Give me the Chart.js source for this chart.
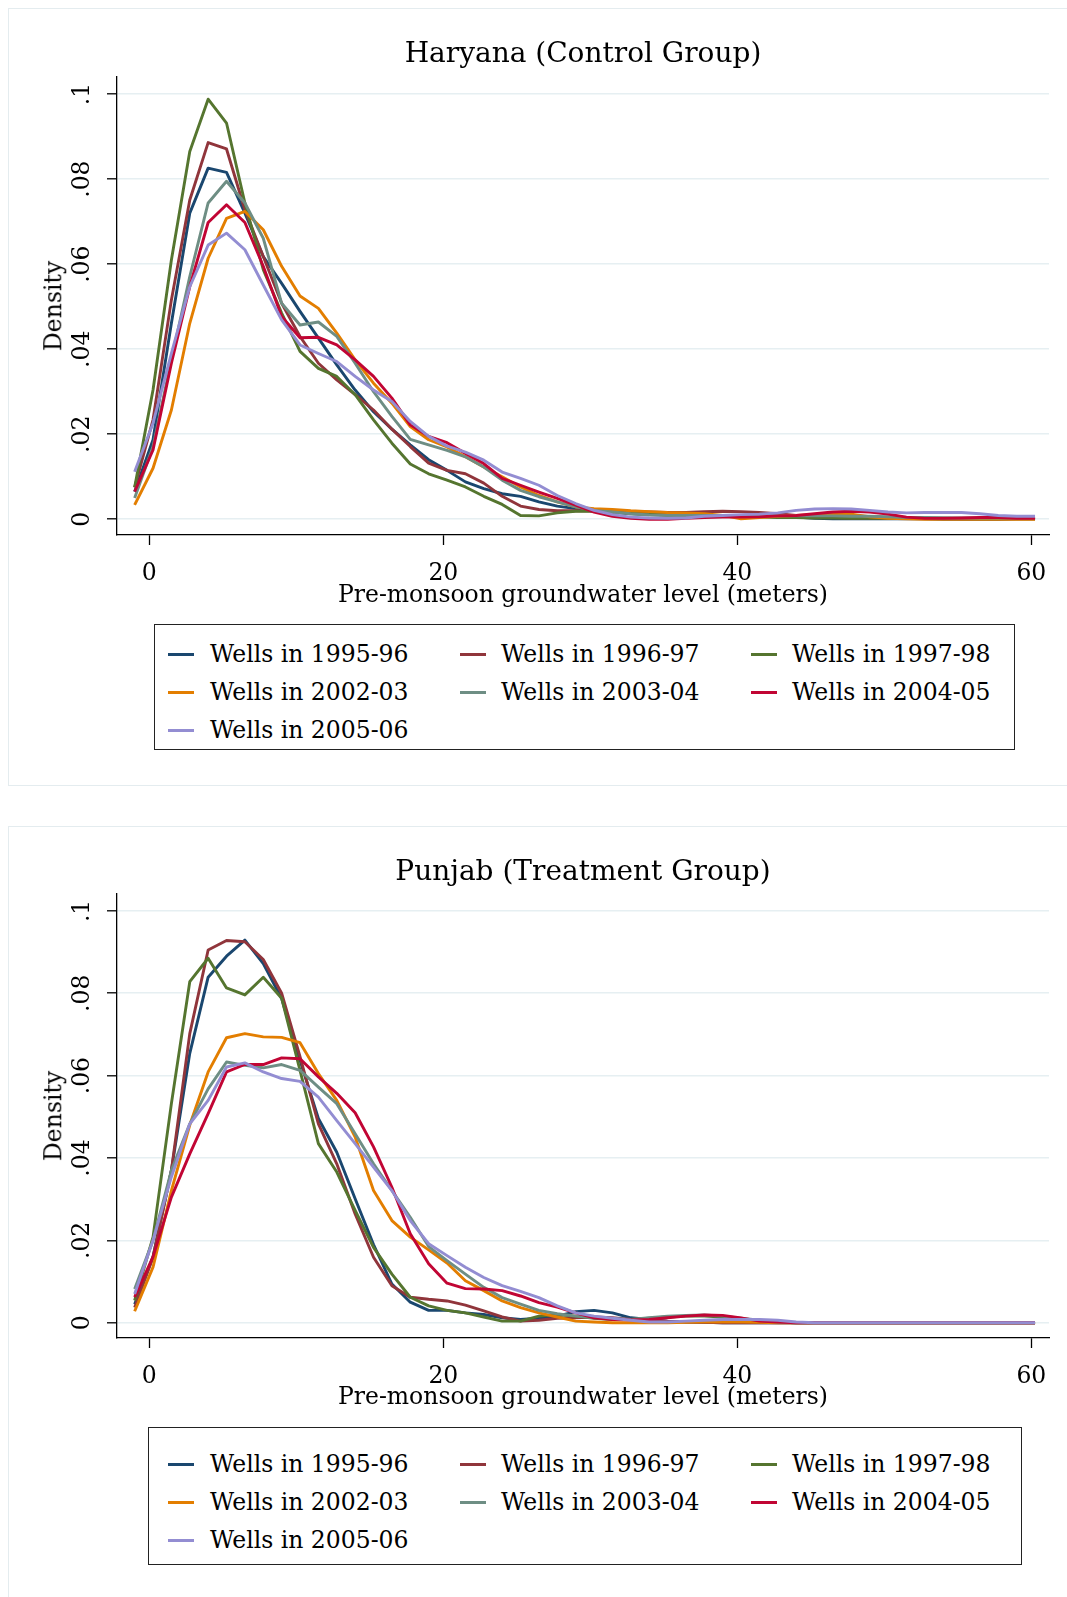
<!DOCTYPE html>
<html>
<head>
<meta charset="utf-8">
<script src="https://cdn.jsdelivr.net/npm/chart.js@4.4.1/dist/chart.umd.min.js"></script>
<style>
  html, body { margin:0; padding:0; background:#fff; }
  body { width:1067px; height:1597px; position:relative; overflow:hidden; font-family:"DejaVu Serif", serif; color:#000; }
  .panel { position:absolute; left:8px; width:1075px; border:1px solid #e4ecef; box-sizing:border-box; background:#fff; }
  .cv { position:absolute; left:0; }
  .title { position:absolute; left:117px; width:932px; text-align:center; font-size:28px; height:40px; line-height:40px; white-space:nowrap; }
  .xtitle { position:absolute; left:117px; width:932px; text-align:center; font-size:23.5px; height:30px; line-height:30px; white-space:nowrap; }
  .ytitle { position:absolute; font-size:23.5px; line-height:1; white-space:nowrap; transform:translate(-50%,-50%) rotate(-90deg); }
  .legend { position:absolute; border:1.5px solid #222; box-sizing:border-box; background:#fff; }
  .sym { position:absolute; height:3px; width:26px; }
  .lab { position:absolute; font-size:23.5px; height:30px; line-height:30px; white-space:nowrap; }
</style>
</head>
<body>
<div class="panel" style="top:8px;height:778px;"></div>
<div class="panel" style="top:826px;height:800px;"></div>

<canvas id="c1" class="cv" width="1067" height="570" style="top:40px;"></canvas>
<canvas id="c2" class="cv" width="1067" height="570" style="top:858px;"></canvas>

<div id="overlay"></div>

<script>
// ---------- DATA ----------
const xs = [-1, 0.25, 1.5, 2.75, 4, 5.25, 6.5, 7.75, 9, 10.25,
  11.5, 12.75, 14, 15.25, 16.5, 17.75, 19, 20.25, 21.5, 22.75,
  24, 25.25, 26.5, 27.75, 29, 30.25, 31.5, 32.75, 34, 35.25,
  36.5, 37.75, 39, 40.25, 41.5, 42.75, 44, 45.25, 46.5, 47.75,
  49, 50.25, 51.5, 52.75, 54, 55.25, 56.5, 57.75, 59, 60.25];

const seriesLabels = ['Wells in 1995-96', 'Wells in 1996-97', 'Wells in 1997-98',
  'Wells in 2002-03', 'Wells in 2003-04', 'Wells in 2004-05', 'Wells in 2005-06'];

const yTickValues = [0, 0.02, 0.04, 0.06, 0.08, 0.1];
const yTickLabels = ['0', '.02', '.04', '.06', '.08', '.1'];
const xTickValues = [0, 20, 40, 60];

const panelTitles = ['Haryana (Control Group)', 'Punjab (Treatment Group)'];
const xAxisTitle = 'Pre-monsoon groundwater level (meters)';
const yAxisTitle = 'Density';

// Haryana (Control Group)
const haryana9596 = [.0065,.0187,.0461,.072,.0826,.0816,.072,.0618,.0555,.0489,
  .0426,.0363,.0304,.0253,.0212,.0175,.014,.0115,.0088,.0072,
  .006,.0054,.0041,.0031,.0025,.0021,.0017,.0013,.0011,.001,
  .0009,.0008,.0008,.0007,.0007,.0006,.0005,.0002,.0001,.0001,
  .0001,.0001,.0001,.0001,0,0,0,0,.0001,.0001];
const haryana9697 = [.0075,.0234,.0516,.0751,.0886,.0871,.0728,.0618,.0508,.043,
  .0367,.0328,.0293,.0257,.0212,.0171,.0132,.0115,.0107,.0085,
  .0054,.0031,.0023,.002,.002,.002,.002,.0018,.0017,.0016,
  .0016,.0018,.0019,.0018,.0016,.0013,.0009,.0005,.0004,.0003,
  .0003,.0003,.0003,.0003,.0003,.0002,.0002,.0002,.0002,.0002];
const haryana9798 = [.0075,.0304,.061,.0865,.0988,.0932,.0744,.0587,.0485,.0395,
  .0355,.0336,.0293,.0234,.0179,.013,.0107,.0092,.0076,.0054,
  .0035,.0009,.0008,.0015,.0019,.0019,.0017,.0014,.0012,.001,
  .001,.0009,.0008,.0006,.0005,.0004,.0004,.0003,.0003,.0002,
  .0002,.0002,.0002,.0002,.0002,.0001,.0001,.0001,.0001,.0001];
const haryana0203 = [.0034,.012,.0257,.0461,.0614,.0708,.0724,.0681,.0595,.0525,
  .0496,.0438,.0375,.032,.0273,.0218,.0187,.017,.0147,.0123,
  .01,.0076,.0056,.0041,.0029,.0025,.0023,.002,.0018,.0016,
  .0015,.0013,.0009,.0001,.0004,.0007,.0009,.0011,.0013,.0012,
  .0006,.0002,.0001,0,0,0,0,0,0,0];
const haryana0304 = [.005,.0171,.0375,.0571,.0744,.0795,.0744,.0661,.0508,.0457,
  .0464,.043,.0367,.03,.0242,.0188,.0175,.0162,.0147,.0123,
  .0092,.0068,.0053,.0041,.0029,.0021,.0017,.0013,.001,.0009,
  .0009,.0009,.0009,.0009,.0009,.0008,.0008,.0008,.0008,.0007,
  .0007,.0006,.0004,.0004,.0003,.0003,.0003,.0003,.0003,.0003];
const haryana0405 = [.0065,.0163,.0367,.0547,.0698,.074,.0698,.0595,.0477,.0427,
  .0428,.041,.0375,.0336,.0285,.0222,.0195,.018,.0155,.0131,
  .0096,.008,.0064,.0049,.0033,.0017,.0007,.0002,0,0,
  .0002,.0004,.0005,.0005,.0006,.0008,.0009,.0013,.0017,.0019,
  .0017,.0012,.0005,.0002,.0002,.0003,.0004,.0004,.0002,.0002];
const haryana0506 = [.0112,.0226,.039,.0547,.0645,.0673,.0634,.0551,.0469,.041,
  .039,.0371,.0336,.0304,.0277,.023,.0195,.0172,.0158,.0139,
  .0111,.0096,.008,.0056,.0037,.0021,.0011,.0005,.0003,.0002,
  .0003,.0007,.0009,.0011,.0012,.0015,.0021,.0024,.0025,.0024,
  .0021,.0017,.0015,.0016,.0016,.0016,.0013,.0009,.0007,.0007];

// Punjab (Treatment Group)
const punjab9596 = [.0045,.016,.037,.0654,.0839,.089,.0929,.0872,.0787,.0637,
  .0496,.0414,.0301,.019,.0094,.005,.003,.003,.0024,.002,
  .0012,.0008,.0011,.0016,.0027,.003,.0024,.0012,.0008,.0004,
  .0002,.0001,0,0,0,0,0,0,0,0,
  0,0,0,0,0,0,0,0,0,0];
const punjab9697 = [.0037,.0159,.037,.0702,.0905,.0928,.0925,.0882,.08,.0646,
  .0483,.0386,.0264,.0159,.009,.0062,.0057,.0053,.0043,.0029,
  .0014,.0004,.0006,.0011,.0012,.0014,.0012,.0008,.0006,.0003,
  .0002,.0001,0,0,0,0,0,0,0,0,
  0,0,0,0,0,0,0,0,0,0];
const punjab9798 = [.0054,.0208,.0532,.0828,.0885,.0813,.0796,.0839,.0788,.0613,
  .0435,.0366,.0273,.0183,.0118,.0062,.0041,.003,.0024,.0014,
  .0004,.0004,.0016,.002,.0016,.0011,.0008,.0008,.0011,.0014,
  .0016,.0016,.0014,.0008,.0004,.0002,0,0,0,0,
  0,0,0,0,0,0,0,0,0,0];
const punjab0203 = [.0028,.0135,.0321,.048,.0609,.0692,.0702,.0694,.0693,.068,
  .0605,.054,.0451,.0321,.0248,.0208,.0177,.0145,.0102,.0078,
  .0053,.0037,.0024,.0014,.0004,.0002,0,0,0,0,
  .0001,.0002,.0002,.0002,.0001,0,0,0,0,0,
  0,0,0,0,0,0,0,0,0,0];
const punjab0304 = [.0082,.02,.037,.0483,.0568,.0633,.0625,.0619,.0627,.0613,
  .0572,.0532,.0459,.0386,.0321,.0256,.0185,.0151,.0118,.0086,
  .0061,.0045,.003,.0022,.0016,.0012,.001,.0008,.0012,.0016,
  .0018,.0019,.0016,.0011,.0006,.0002,0,0,0,0,
  0,0,0,0,0,0,0,0,0,0];
const punjab0405 = [.0062,.016,.0305,.041,.0508,.0609,.0627,.0627,.0643,.0641,
  .0597,.0557,.051,.0427,.0329,.0216,.0143,.0096,.0083,.0082,
  .0078,.0065,.0049,.0038,.0024,.0012,.0008,.0007,.0008,.0012,
  .0016,.0019,.0018,.0012,.0004,.0002,0,0,0,0,
  0,0,0,0,0,0,0,0,0,0];
const punjab0506 = [.007,.02,.0354,.0483,.054,.0621,.0631,.0609,.0593,.0586,
  .0548,.0491,.0435,.0378,.0321,.0248,.0192,.0163,.0135,.011,
  .009,.0076,.0061,.0041,.0024,.0016,.0011,.0006,.0002,.0002,
  .0004,.0006,.0008,.0008,.0008,.0006,.0002,0,0,0,
  0,0,0,0,0,0,0,0,0,0];

// ---------- STYLE / LAYOUT ----------
const COLORS = ['#1a476f', '#90353b', '#55752f', '#e37e00', '#6e8e84', '#c10534', '#938dd2'];
const FONT = '"DejaVu Serif", serif';

const panels = [
  { canvas: 'c1', canvasTop: 40, canvasH: 570, plotLeft: 117, plotRight: 1049, plotTop: 76.7, plotBottom: 535,
    titleY: 53, xTitleY: 594,
    legend: { l: 154, t: 624, w: 861, h: 126, rows: [654, 692, 730] },
    series: [haryana9596, haryana9697, haryana9798, haryana0203, haryana0304, haryana0405, haryana0506] },
  { canvas: 'c2', canvasTop: 858, canvasH: 570, plotLeft: 117, plotRight: 1049, plotTop: 894, plotBottom: 1338,
    titleY: 871, xTitleY: 1396,
    legend: { l: 148, t: 1427, w: 874, h: 138, rows: [1464, 1502, 1540] },
    series: [punjab9596, punjab9697, punjab9798, punjab0203, punjab0304, punjab0405, punjab0506] }
];
const legendCols = [{ s: 168, t: 210 }, { s: 460, t: 501 }, { s: 751, t: 792 }];
const Y_LABEL_X = 82.5;
const Y_TITLE_X = 54;

const yLabelPlugin = {
  id: 'yLabels',
  afterDraw(chart) {
    const ctx = chart.ctx, ys = chart.scales.y;
    ctx.save();
    ctx.fillStyle = '#000';
    ctx.font = '23.5px ' + FONT;
    ctx.textAlign = 'center';
    ctx.textBaseline = 'middle';
    yTickValues.forEach((v, k) => {
      const py = ys.getPixelForValue(v);
      ctx.save();
      ctx.translate(Y_LABEL_X, py);
      ctx.rotate(-Math.PI / 2);
      ctx.fillText(yTickLabels[k], 0, 0);
      ctx.restore();
    });
    ctx.restore();
  }
};

function makeChart(P) {
  const cv = document.getElementById(P.canvas);
  const datasets = P.series.map((arr, i) => ({
    label: seriesLabels[i],
    data: arr.map((v, j) => ({ x: xs[j], y: v })),
    borderColor: COLORS[i],
    backgroundColor: COLORS[i],
    borderWidth: 2.9,
    pointRadius: 0,
    fill: false,
    tension: 0,
    borderJoinStyle: 'round',
    order: P.series.length - 1 - i
  }));
  new Chart(cv, {
    type: 'line',
    data: { datasets },
    options: {
      responsive: false,
      animation: false,
      devicePixelRatio: 1,
      layout: { padding: { left: 0, right: 1067 - P.plotRight, top: P.plotTop - P.canvasTop, bottom: 0 } },
      plugins: { legend: { display: false }, tooltip: { enabled: false }, title: { display: false } },
      scales: {
        x: {
          type: 'linear', min: -2.2, max: 61.2,
          afterBuildTicks: s => { s.ticks = xTickValues.map(v => ({ value: v })); },
          afterFit: s => { s.height = P.canvasTop + P.canvasH - P.plotBottom; },
          ticks: { font: { family: FONT, size: 23.5 }, color: '#000', padding: 15, maxRotation: 0, minRotation: 0,
                   callback: v => String(v) },
          grid: { drawOnChartArea: false, drawTicks: true, tickLength: 10, tickColor: '#000', tickWidth: 1.3 },
          border: { display: true, color: '#000', width: 1.3 }
        },
        y: {
          type: 'linear', min: -0.0037, max: 0.1041,
          afterBuildTicks: s => { s.ticks = yTickValues.map(v => ({ value: v })); },
          afterFit: s => { s.width = P.plotLeft; },
          ticks: { display: false },
          grid: { color: '#e6eff2', lineWidth: 1.6, drawTicks: true, tickLength: 10, tickColor: '#000', tickWidth: 1.3 },
          border: { display: true, color: '#000', width: 1.3 }
        }
      }
    },
    plugins: [yLabelPlugin]
  });
}

function addText(cls, text, style) {
  const d = document.createElement('div');
  d.className = cls;
  d.textContent = text;
  Object.assign(d.style, style);
  document.getElementById('overlay').appendChild(d);
  return d;
}

panels.forEach((P, pi) => {
  makeChart(P);
  addText('title', panelTitles[pi], { top: (P.titleY - 20) + 'px' });
  addText('xtitle', xAxisTitle, { top: (P.xTitleY - 15) + 'px' });
  addText('ytitle', yAxisTitle, { left: Y_TITLE_X + 'px', top: ((P.plotTop + P.plotBottom) / 2) + 'px' });
  const L = P.legend;
  const box = document.createElement('div');
  box.className = 'legend';
  Object.assign(box.style, { left: L.l + 'px', top: L.t + 'px', width: L.w + 'px', height: L.h + 'px' });
  document.getElementById('overlay').appendChild(box);
  seriesLabels.forEach((lab, i) => {
    const r = Math.floor(i / 3), c = i % 3;
    const cy = L.rows[r];
    const sym = document.createElement('div');
    sym.className = 'sym';
    Object.assign(sym.style, { left: legendCols[c].s + 'px', top: (cy - 1.5) + 'px', background: COLORS[i] });
    document.getElementById('overlay').appendChild(sym);
    addText('lab', lab, { left: legendCols[c].t + 'px', top: (cy - 15) + 'px' });
  });
});
</script>
</body>
</html>
